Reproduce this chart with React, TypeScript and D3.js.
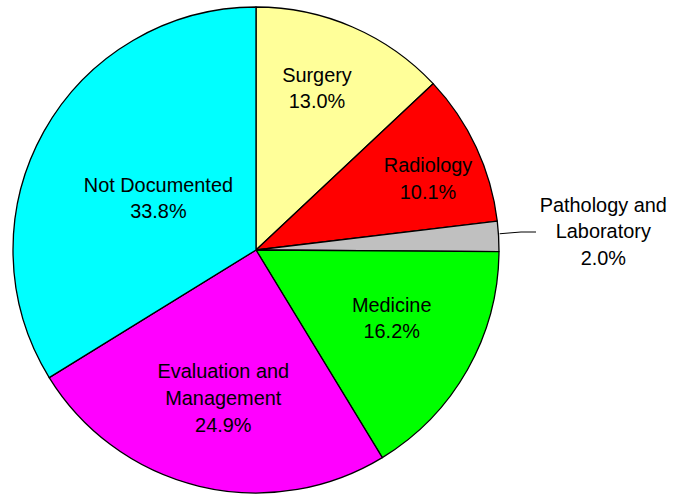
import React from "react";
import * as d3 from "d3";

const categories = ["Surgery", "Radiology", "Pathology and Laboratory", "Medicine", "Evaluation and Management", "Not Documented"];
const values = [13.0, 10.1, 2.0, 16.2, 24.9, 33.8];
const colors = ["#FFFF99", "#FF0000", "#C0C0C0", "#00FF00", "#FF00FF", "#00FFFF"];
const labelLines = [["Surgery"], ["Radiology"], ["Pathology and", "Laboratory"], ["Medicine"], ["Evaluation and", "Management"], ["Not Documented"]];

// layout (label block centre x, first baseline y)
const W = 673, H = 494;
const CX = 256, CY = 250, R = 243;
const labelAnchors: [number, number][] = [
  [317, 81.7],
  [428, 172.3],
  [603.3, 211.7],
  [391.7, 311.7],
  [223.3, 378.3],
  [158.4, 191.7],
];
const LINE_H = 26.6;
const FONT = "'Liberation Sans', Arial, sans-serif";
const FONT_SIZE = 19.9;

export default function App() {
  const pie = d3.pie<number>().sort(null).value((d) => d);
  const arcs = pie(values);
  const arc = d3.arc<d3.PieArcDatum<number>>().innerRadius(0).outerRadius(R);

  const path = arcs[2];
  const mid = (path.startAngle + path.endAngle) / 2;
  const lx0 = CX + R * Math.sin(mid) + 1;
  const ly0 = CY - R * Math.cos(mid) - 2.5;

  return (
    <svg width={W} height={H} style={{ position: "absolute", left: 0, top: 0 }}>
      <rect width={W} height={H} fill="#fff" />
      <g transform={`translate(${CX},${CY})`}>
        {arcs.map((a, i) => (
          <path key={i} d={arc(a) || ""} fill={colors[i]} stroke="#000" strokeWidth={1.3} strokeLinejoin="round" />
        ))}
      </g>
      <polyline points={`${lx0},${ly0} 521,232 536,232`} fill="none" stroke="#000" strokeWidth={1} />
      {values.map((v, i) => {
        const lines = [...labelLines[i], `${v.toFixed(1)}%`];
        const [x, y] = labelAnchors[i];
        return (
          <text key={i} x={x} y={y} textAnchor="middle" fontFamily={FONT} fontSize={FONT_SIZE} fill="#000" aria-label={categories[i]}>
            {lines.map((l, j) => (
              <tspan key={j} x={x} y={y + j * LINE_H}>{l}</tspan>
            ))}
          </text>
        );
      })}
    </svg>
  );
}
